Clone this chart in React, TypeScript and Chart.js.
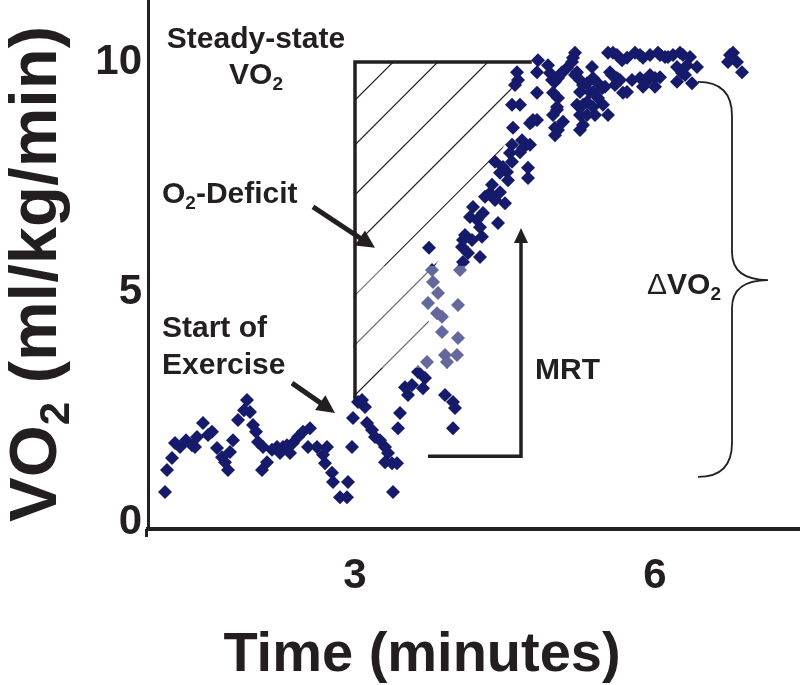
import React, { useEffect, useRef } from 'react';
import { Chart, registerables } from 'chart.js';

Chart.register(...registerables);

// ---- data (time in minutes, VO2 in ml/kg/min) ----
const TIME = [
  1.10, 1.12, 1.17, 1.20, 1.25, 1.31, 1.37, 1.40, 1.42, 1.48, 1.53, 1.57, 1.62, 1.67, 1.70, 1.73, 1.75, 1.78, 1.83, 1.89,
  1.92, 1.95, 1.98, 2.01, 2.03, 2.08, 2.07, 2.12, 2.17, 2.22, 2.25, 2.28, 2.32, 2.35, 2.38, 2.43, 2.48, 2.55, 2.53, 2.62,
  2.68, 2.70, 2.72, 2.77, 2.78, 2.85, 2.92, 2.93, 2.97, 2.98, 3.03, 3.07, 3.10, 3.12, 3.17, 3.20, 3.25, 3.30, 3.33, 3.30,
  3.37, 3.42, 3.38, 3.43, 3.45, 3.50, 3.53, 3.57, 3.63, 3.68, 3.70, 3.72, 3.73, 3.78, 3.77, 3.74, 3.83, 3.82, 3.87, 3.87,
  3.90, 3.92, 4.02, 4.03, 4.03, 4.05, 3.90, 3.98, 4.00, 3.98, 4.08, 4.08, 4.07, 4.13, 4.10, 4.17, 4.25, 4.27, 4.22, 4.15,
  4.18, 4.25, 4.28, 4.30, 4.35, 4.37, 4.40, 4.43, 4.45, 4.50, 4.40, 4.45, 4.48, 4.52, 4.53, 4.57, 4.55, 4.57, 4.65, 4.68,
  4.67, 4.75, 4.73, 4.73, 4.58, 4.77, 4.82, 4.57, 4.65, 4.82, 4.60, 4.63, 4.62, 4.83, 4.93, 4.82, 4.95, 5.00, 4.98, 5.02,
  5.00, 5.00, 4.75, 4.78, 5.03, 5.02, 5.03, 4.98, 5.03, 4.97, 5.07, 5.12, 5.05, 5.18, 5.20, 5.17, 5.20, 5.22, 5.25, 5.08,
  5.22, 5.25, 5.28, 5.25, 5.25, 5.28, 5.28, 5.32, 5.32, 5.35, 5.32, 5.37, 5.38, 5.38, 5.38, 5.40, 5.43, 5.43, 5.47, 5.48,
  5.50, 5.53, 5.57, 5.55, 5.60, 5.62, 5.65, 5.68, 5.72, 5.53, 5.58, 5.62, 5.67, 5.72, 5.77, 5.80, 5.85, 5.88, 5.85, 5.88,
  5.93, 5.95, 5.95, 6.00, 6.00, 6.03, 6.05, 6.05, 6.10, 6.13, 6.18, 6.22, 6.22, 6.25, 6.28, 6.27, 6.30, 6.32, 6.35, 6.37,
  6.42, 6.73, 6.75, 6.78, 6.82, 6.87,
];
const VO2 = [
  0.65, 1.13, 1.39, 1.72, 1.63, 1.78, 1.67, 1.63, 1.85, 2.15, 1.89, 1.96, 1.61, 1.41, 1.30, 1.13, 1.52, 1.78, 2.22, 2.43,
  2.65, 2.39, 2.11, 1.96, 1.74, 1.63, 1.13, 1.30, 1.57, 1.63, 1.50, 1.63, 1.67, 1.50, 1.72, 1.85, 1.96, 2.04, 1.63, 1.63,
  1.46, 1.28, 1.63, 1.07, 0.87, 0.54, 0.54, 0.87, 1.63, 2.26, 2.61, 2.65, 2.50, 2.15, 2.00, 1.85, 1.78, 1.63, 1.50, 1.30,
  1.28, 1.28, 0.65, 2.04, 2.37, 2.93, 2.76, 2.98, 3.26, 2.91, 3.13, 3.48, 4.76, 5.22, 5.48, 5.96, 4.98, 4.54, 4.46, 4.13,
  3.63, 3.48, 3.63, 4.00, 4.72, 5.48, 2.76, 2.61, 2.48, 2.04, 5.65, 6.13, 5.98, 5.85, 6.24, 6.13, 5.76, 6.20, 6.57, 6.63,
  6.85, 6.41, 6.72, 7.07, 7.15, 7.33, 7.00, 6.50, 7.17, 6.93, 7.83, 7.59, 7.72, 7.61, 7.43, 7.83, 8.02, 8.20, 8.04, 8.13,
  8.30, 8.20, 7.70, 7.48, 8.57, 8.70, 8.74, 9.07, 9.07, 9.33, 9.50, 9.61, 9.78, 10.04, 9.93, 9.78, 9.76, 9.57, 9.33, 9.02,
  8.57, 8.41, 8.67, 8.74, 9.22, 8.96, 8.52, 8.85, 9.65, 9.61, 9.78, 9.87, 9.72, 10.09, 10.20, 10.00, 9.72, 9.78, 9.61, 8.70,
  9.07, 8.85, 8.63, 8.52, 9.35, 9.50, 9.07, 8.85, 9.54, 9.35, 9.13, 9.89, 9.65, 9.35, 9.02, 8.85, 9.54, 9.22, 9.43, 9.07,
  9.46, 8.85, 9.72, 9.78, 9.50, 9.65, 9.61, 9.33, 9.35, 10.20, 10.20, 10.15, 10.04, 10.09, 9.61, 10.20, 10.15, 10.09, 9.65, 9.46,
  9.61, 10.15, 9.72, 9.65, 9.46, 10.20, 10.15, 9.67, 10.11, 10.11, 10.15, 9.89, 9.57, 10.20, 10.15, 9.76, 9.72, 9.93, 10.11, 9.54,
  9.89, 10.00, 10.15, 10.20, 10.00, 9.78,
];

const X_TICKS = [3, 6];
const Y_TICKS = [0, 5, 10];
const X_MIN = 0.93;
const X_MAX = 7.45;
const Y_MIN = -0.152;
const Y_MAX = 11.348;

// ---- annotation geometry (data units) ----
const BOX_X = 3.0;
const BOX_Y_BOTTOM = 2.68;
const BOX_Y_TOP = 10.0;
const BOX_X_RIGHT = 4.75;
const HATCH_EDGE = [
  [4.75, 10.0], [4.57, 9.5], [4.55, 8.41], [3.72, 5.26], [3.74, 4.26], [2.98, 2.6],
];
const HATCH_START_Y = [9.17, 8.2, 7.11, 6.02, 4.93, 3.85, 2.76];
const FADE = { x0: 3.02, x1: 4.23, y0: 3.35, y1: 5.57 };
const MRT = { x0: 3.73, x1: 4.66, y0: 1.43, y1: 6.39 };
const BRACE = { x0: 6.43, spine: 6.77, tip: 7.13, top: 9.57, mid: 5.26, bottom: 0.98 };
const ARROWS = [
  { from: [2.58, 6.85], to: [3.2, 5.96] },
  { from: [2.37, 3.02], to: [2.8, 2.37] },
];

type Run = { t: string; sub?: boolean; w?: string };
const LABELS: { x: number; y: number; align: 'left' | 'center'; runs: Run[] }[] = [
  { x: 2.01, y: 10.3, align: 'center', runs: [{ t: 'Steady-state' }] },
  { x: 2.01, y: 9.52, align: 'center', runs: [{ t: 'VO' }, { t: '2', sub: true }] },
  { x: 1.07, y: 6.93, align: 'left', runs: [{ t: 'O' }, { t: '2', sub: true }, { t: '-Deficit' }] },
  { x: 1.07, y: 4.02, align: 'left', runs: [{ t: 'Start of' }] },
  { x: 1.07, y: 3.22, align: 'left', runs: [{ t: 'Exercise' }] },
  { x: 4.8, y: 3.11, align: 'left', runs: [{ t: 'MRT' }] },
  { x: 5.92, y: 4.96, align: 'left', runs: [{ t: '\u0394', w: 'normal' }, { t: 'VO' }, { t: '2', sub: true }] },
];

const FAMILY = '"Liberation Sans", Arial, Helvetica, sans-serif';
const INK = '#231f20';
const DOT = '#161a6b';

function runFont(r: Run, size: number) {
  const s = r.sub ? Math.round(size * 0.62) : size;
  return `${r.w || 'bold'} ${s}px ${FAMILY}`;
}

function drawRuns(ctx: CanvasRenderingContext2D, runs: Run[], x: number, y: number, size: number, align: 'left' | 'center') {
  let total = 0;
  const widths = runs.map((r) => {
    ctx.font = runFont(r, size);
    const w = ctx.measureText(r.t).width;
    total += w;
    return w;
  });
  let cx = align === 'center' ? x - total / 2 : x;
  ctx.textAlign = 'left';
  ctx.textBaseline = 'alphabetic';
  runs.forEach((r, i) => {
    ctx.font = runFont(r, size);
    ctx.fillText(r.t, cx, r.sub ? y + size * 0.2 : y);
    cx += widths[i];
  });
}

function arrowHead(ctx: CanvasRenderingContext2D, x1: number, y1: number, x2: number, y2: number, len: number, half: number) {
  const a = Math.atan2(y2 - y1, x2 - x1);
  ctx.beginPath();
  ctx.moveTo(x2, y2);
  ctx.lineTo(x2 - len * Math.cos(a) + half * Math.sin(a), y2 - len * Math.sin(a) - half * Math.cos(a));
  ctx.lineTo(x2 - len * Math.cos(a) - half * Math.sin(a), y2 - len * Math.sin(a) + half * Math.cos(a));
  ctx.closePath();
  ctx.fill();
}

const annotations = {
  id: 'vo2Annotations',
  beforeDatasetsDraw(chart: any) {
    const { ctx } = chart;
    const X = (v: number) => chart.scales.x.getPixelForValue(v);
    const Y = (v: number) => chart.scales.y.getPixelForValue(v);
    ctx.save();
    ctx.beginPath();
    ctx.moveTo(X(BOX_X), Y(BOX_Y_TOP));
    HATCH_EDGE.forEach(([a, b]) => ctx.lineTo(X(a), Y(b)));
    ctx.closePath();
    ctx.clip();
    ctx.strokeStyle = INK;
    ctx.lineWidth = 1.2;
    HATCH_START_Y.forEach((v) => {
      const x0 = X(BOX_X);
      const y0 = Y(v);
      ctx.beginPath();
      ctx.moveTo(x0 - 10, y0 + 10);
      ctx.lineTo(x0 + 500, y0 - 500);
      ctx.stroke();
    });
    ctx.restore();
    ctx.save();
    ctx.strokeStyle = INK;
    ctx.lineWidth = 3.5;
    ctx.lineCap = 'square';
    ctx.beginPath();
    ctx.moveTo(X(BOX_X), Y(BOX_Y_BOTTOM));
    ctx.lineTo(X(BOX_X), Y(BOX_Y_TOP));
    ctx.lineTo(X(BOX_X_RIGHT), Y(BOX_Y_TOP));
    ctx.stroke();
    ctx.restore();
  },
  afterDatasetsDraw(chart: any) {
    const { ctx } = chart;
    const X = (v: number) => chart.scales.x.getPixelForValue(v);
    const Y = (v: number) => chart.scales.y.getPixelForValue(v);
    ctx.save();
    ctx.fillStyle = 'rgba(255,255,255,0.34)';
    ctx.fillRect(X(FADE.x0), Y(FADE.y1), X(FADE.x1) - X(FADE.x0), Y(FADE.y0) - Y(FADE.y1));
    ctx.restore();
  },
  afterDraw(chart: any) {
    const { ctx } = chart;
    const X = (v: number) => chart.scales.x.getPixelForValue(v);
    const Y = (v: number) => chart.scales.y.getPixelForValue(v);
    const area = chart.chartArea;
    ctx.save();
    ctx.strokeStyle = INK;
    ctx.fillStyle = INK;
    // y-axis stub below the x axis
    ctx.lineWidth = 3;
    ctx.beginPath();
    ctx.moveTo(area.left - 1.5, area.bottom);
    ctx.lineTo(area.left - 1.5, area.bottom + 8);
    ctx.stroke();
    // pointer arrows
    ARROWS.forEach((a) => {
      const x1 = X(a.from[0]), y1 = Y(a.from[1]), x2 = X(a.to[0]), y2 = Y(a.to[1]);
      const ang = Math.atan2(y2 - y1, x2 - x1);
      ctx.lineWidth = 5;
      ctx.lineCap = 'butt';
      ctx.beginPath();
      ctx.moveTo(x1, y1);
      ctx.lineTo(x2 - 12 * Math.cos(ang), y2 - 12 * Math.sin(ang));
      ctx.stroke();
      arrowHead(ctx, x1, y1, x2, y2, 18, 9);
    });
    // MRT bracket arrow
    ctx.lineWidth = 3.5;
    ctx.lineCap = 'butt';
    ctx.lineJoin = 'miter';
    ctx.beginPath();
    ctx.moveTo(X(MRT.x0), Y(MRT.y0));
    ctx.lineTo(X(MRT.x1), Y(MRT.y0));
    ctx.lineTo(X(MRT.x1), Y(MRT.y1) + 10);
    ctx.stroke();
    arrowHead(ctx, X(MRT.x1), Y(MRT.y0), X(MRT.x1), Y(MRT.y1), 15, 7);
    // brace
    const bx0 = X(BRACE.x0), bs = X(BRACE.spine), bt = X(BRACE.tip);
    const yT = Y(BRACE.top), yM = Y(BRACE.mid), yB = Y(BRACE.bottom);
    const r = bs - bx0;
    ctx.lineWidth = 1.8;
    ctx.beginPath();
    ctx.moveTo(bx0, yT);
    ctx.quadraticCurveTo(bs, yT, bs, yT + r);
    ctx.lineTo(bs, yM - 28);
    ctx.quadraticCurveTo(bs, yM, bt, yM);
    ctx.moveTo(bt, yM);
    ctx.quadraticCurveTo(bs, yM, bs, yM + 28);
    ctx.lineTo(bs, yB - r);
    ctx.quadraticCurveTo(bs, yB, bx0, yB);
    ctx.stroke();
    // labels
    LABELS.forEach((l) => drawRuns(ctx, l.runs, X(l.x), Y(l.y), 30, l.align));
    // axis titles
    drawRuns(ctx, [{ t: 'Time (minutes)' }], area.left + 274, 671, 56, 'center');
    ctx.translate(56, 274);
    ctx.rotate(-Math.PI / 2);
    drawRuns(ctx, [{ t: 'VO' }, { t: '2', sub: true }, { t: ' (ml/kg/min)' }], 0, 0, 67, 'center');
    ctx.restore();
  },
};

export default function App() {
  const ref = useRef<HTMLCanvasElement | null>(null);
  useEffect(() => {
    if (!ref.current) return;
    const tickFont = { family: FAMILY, size: 42, weight: 'bold' as const };
    const chart = new Chart(ref.current, {
      type: 'scatter',
      data: {
        datasets: [
          {
            data: TIME.map((t, i) => ({ x: t, y: VO2[i] })),
            pointStyle: 'rectRot',
            pointRadius: 7,
            backgroundColor: DOT,
            borderWidth: 0,
          },
        ],
      },
      options: {
        responsive: false,
        animation: false,
        devicePixelRatio: 1,
        layout: { padding: 0, autoPadding: false },
        plugins: { legend: { display: false }, tooltip: { enabled: false } },
        scales: {
          x: {
            type: 'linear',
            min: X_MIN,
            max: X_MAX,
            afterBuildTicks: (s: any) => { s.ticks = X_TICKS.map((v) => ({ value: v })); },
            afterFit: (s: any) => { s.height = 156; s.paddingLeft = 0; s.paddingRight = 0; },
            grid: { display: false, drawTicks: false },
            border: { display: true, color: INK, width: 4 },
            ticks: { font: tickFont, color: INK, padding: 22, maxRotation: 0 },
          },
          y: {
            type: 'linear',
            min: Y_MIN,
            max: Y_MAX,
            afterBuildTicks: (s: any) => { s.ticks = Y_TICKS.map((v) => ({ value: v })); },
            afterFit: (s: any) => { s.width = 148; s.paddingTop = 0; s.paddingBottom = 0; },
            grid: { display: false, drawTicks: false },
            border: { display: true, color: INK, width: 3 },
            ticks: { font: tickFont, color: INK, padding: 6 },
          },
        },
      },
      plugins: [annotations],
    });
    return () => chart.destroy();
  }, []);
  return (
    <div style={{ position: 'fixed', left: 0, top: 0, width: 800, height: 685, background: '#fff' }}>
      <canvas ref={ref} width={800} height={685} style={{ display: 'block' }} />
    </div>
  );
}
